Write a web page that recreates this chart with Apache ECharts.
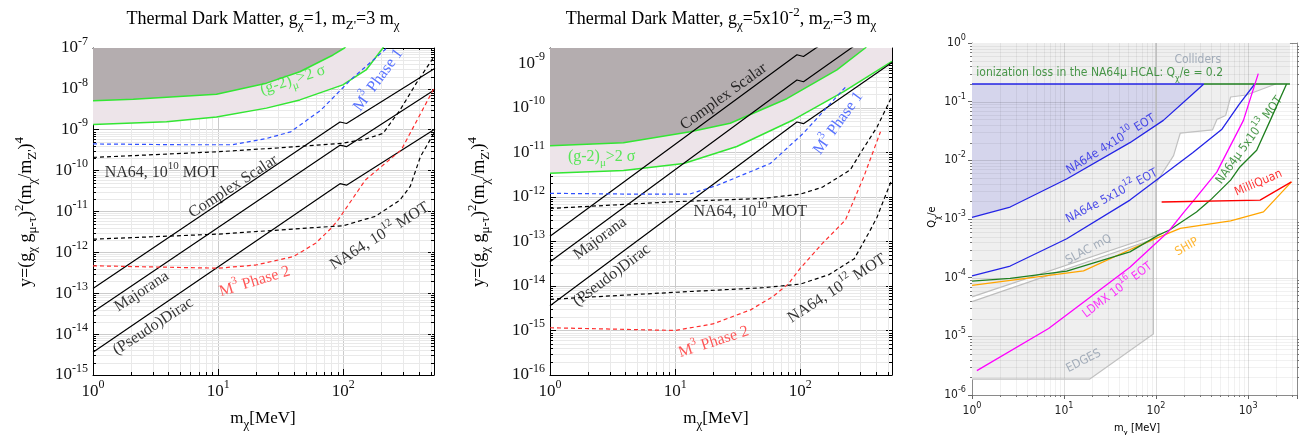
<!DOCTYPE html>
<html>
<head>
<meta charset="utf-8">
<title>Thermal dark matter and millicharge limits</title>
<script src="https://cdn.jsdelivr.net/npm/echarts@6/dist/echarts.min.js"></script>
<style>
  html, body { margin: 0; padding: 0; background: #fff; }
  #main { width: 1302px; height: 435px; }
</style>
</head>
<body>
<div id="main"></div>
<script>
// thermal targets (same in both left panels)
const thermalComplex = [[1, 1.3e-13], [94, 1.55e-9], [106, 1.42e-9], [540, 3.2e-8]]
const thermalMajorana = [[1, 3.5e-14], [94, 4.2e-10], [106, 3.85e-10], [540, 9.7e-9]]
const thermalDirac = [[1, 3.6e-15], [94, 4.8e-11], [106, 4.4e-11], [540, 1.04e-9]]

// panel 1: g_chi = 1
const p1XRange = [1, 530]
const p1YRange = [1e-15, 1e-7]
const p1G2Upper = [[1, 5.1e-9], [2.1, 5.6e-9], [9.7, 7.4e-9], [24.3, 1.38e-8], [44.9, 2.63e-8], [82.8, 6.75e-8], [102, 1e-7], [110, 1.3e-7]]
const p1G2Lower = [[1, 1.34e-9], [3.87, 1.58e-9], [9.7, 2.04e-9], [24.3, 3.38e-9], [44.9, 5.37e-9], [99, 1.25e-8], [152, 2.9e-8], [207, 1e-7], [215, 1.3e-7]]
const p1M3Phase1 = [[1, 4.5e-10], [5, 4.3e-10], [13, 4.3e-10], [24.3, 6.1e-10], [38, 8.9e-10], [66, 3e-9], [114, 1.65e-8], [217, 9.3e-8], [225, 1.2e-7]]
const p1M3Phase2 = [[1, 4.7e-13], [10, 4.1e-13], [20, 4.9e-13], [40, 7.9e-13], [60, 1.67e-12], [80, 3.9e-12], [91, 6.3e-12], [150, 5.9e-11], [290, 3.2e-10], [530, 1.03e-8]]
const p1NA64e10 = [[1, 2.1e-10], [10, 2.9e-10], [30, 3.6e-10], [100, 4.7e-10], [150, 5.9e-10], [207, 8.1e-10], [283, 3e-9], [383, 1.38e-8], [530, 6.1e-8]]
const p1NA64e12 = [[1, 2.1e-12], [10, 2.8e-12], [30, 3.5e-12], [100, 4.5e-12], [180, 7.6e-12], [283, 1.9e-11], [342, 4.1e-11], [413, 2.2e-10], [530, 8.3e-10]]

// panel 2: g_chi = 5e-2
const p2XRange = [1, 540]
const p2YRange = [1e-16, 2.2e-9]
const p2G2Upper = [[1, 1.4e-11], [3.86, 1.65e-11], [13.2, 2.9e-11], [27.5, 4.5e-11], [78, 1.6e-10], [196, 7.1e-10], [330, 2.2e-9], [345, 2.6e-9]]
const p2G2Lower = [[1, 3.4e-12], [3.86, 3.9e-12], [11.7, 5.6e-12], [31.1, 1.35e-11], [88.4, 5.4e-11], [222, 2.3e-10], [540, 1.1e-9]]
const p2M3Phase1 = [[1, 1.2e-12], [5, 1.15e-12], [13, 1.15e-12], [21.5, 1.8e-12], [57.5, 5.6e-12], [106, 2.7e-11], [229, 2.9e-10]]
const p2M3Phase2 = [[1, 1.15e-15], [10, 1e-15], [20, 1.4e-15], [40, 2.9e-15], [60, 5.7e-15], [80, 1.1e-14], [100, 2.5e-14], [150, 9e-14], [229, 3e-13], [321, 2.8e-12], [437, 2.9e-11]]
const p2NA64e10 = [[1, 5.5e-13], [10, 7.8e-13], [50, 9.2e-13], [100, 1.15e-12], [150, 1.65e-12], [250, 4e-12], [300, 9.3e-12], [410, 3.7e-11], [540, 1.8e-10]]
const p2NA64e12 = [[1, 5e-15], [10, 7.2e-15], [50, 9.1e-15], [100, 1.1e-14], [170, 1.8e-14], [270, 4.1e-14], [350, 1.5e-13], [410, 3.5e-13], [460, 8e-13], [540, 2.5e-12]]

// panel 3: millicharged particles
const p3XRange = [1, 3400]
const p3YRange = [1e-6, 1]
const p3Excluded = [[1, 1.86e-6], [18.9, 1.86e-6], [93.5, 1.1e-5], [93.5, 5e-4], [100, 5.5e-4], [100, 4.1e-3], [155, 0.012], [183, 0.029], [410, 0.033], [460, 0.05], [570, 0.058], [646, 0.12], [960, 0.13], [2000, 0.2], [2850, 0.2], [2850, 1], [1, 1]]
const p3ColliderEdge = [[100, 4.1e-3], [155, 0.012], [183, 0.029], [410, 0.033], [460, 0.05], [570, 0.058], [646, 0.12], [960, 0.13], [2000, 0.2]]
const p3EdgesEdge = [[1, 1.86e-6], [18.9, 1.86e-6], [93.5, 1.1e-5], [93.5, 5e-4]]
const p3Vertical = [[100, 5.5e-4], [100, 1]]
const p3SlacUpper = [[1, 4.7e-5], [111, 5.6e-4]]
const p3SlacLower = [[1, 3.9e-5], [100, 4.7e-4]]
const p3Ionization = 0.2
const p3NA64e4e10 = [[1, 1.07e-3], [2.6, 1.6e-3], [10.7, 4.8e-3], [52, 0.02], [120, 0.048], [252, 0.137], [330, 0.2]]
const p3NA64e5e12 = [[1, 1.07e-4], [2.6, 1.58e-4], [10.7, 4.6e-4], [52, 2.1e-3], [250, 0.0135], [520, 0.034], [800, 0.09], [1180, 0.2]]
const p3NA64mu = [[1, 8.7e-5], [2.6, 9.7e-5], [10.7, 1.29e-4], [52, 2.75e-4], [106, 5.3e-4], [140, 6.5e-4], [275, 1.32e-3], [389, 2.1e-3], [646, 4.6e-3], [815, 7.7e-3], [1240, 0.0149], [1740, 0.048], [2620, 0.2]]
const p3LDMX = [[1.13, 2.6e-6], [6.8, 1.36e-5], [52, 1.5e-4], [135, 6e-4], [200, 1.3e-3], [265, 2.2e-3], [457, 6.3e-3], [890, 0.048], [1290, 0.3]]
const p3MilliQuan = [[115, 1.95e-3], [1350, 2.1e-3], [2960, 4.3e-3]]
const p3SHIP = [[1, 7.4e-5], [16.3, 1.31e-4], [57, 3.2e-4], [111, 5e-4], [183, 6.9e-4], [646, 9.3e-4], [1470, 1.32e-3], [2960, 4.3e-3]]

const SERIF = 'Liberation Serif'
const SANS = '"DejaVu Sans Condensed", "DejaVu Sans"'

const GREEN = '#33e633'
const BLUE = '#2f50ff'
const RED = '#ff2e2e'
const DARK = '#b4adaf'
const PINK = '#ede4e9'

const B3 = '#2424e6'
const G3 = '#1f7f1f'
const M3 = '#ff00ff'
const O3 = '#ffa500'
const R3 = '#ff0000'
const GT3 = '#8e9bab'

// annotations: text, x, y, rotation, colour
const p1Notes = [
  ['(g-2)_{μ}>2 σ', 39.5, 1.65e-8, 18, GREEN],
  ['M^{3} Phase 1', 190, 1.65e-8, 54, BLUE],
  ['NA64, 10^{10} MOT', 3.53, 8.7e-11, 0, '#000'],
  ['Complex Scalar', 13.2, 4.1e-11, 33, '#000'],
  ['Majorana', 2.45, 1.1e-13, 33, '#000'],
  ['(Pseudo)Dirac', 3.03, 1.55e-14, 33, '#000'],
  ['M^{3} Phase 2', 19.6, 1.94e-13, 17, RED],
  ['NA64, 10^{12} MOT', 195, 2.5e-12, 32, '#000'],
]
const p2Notes = [
  ['Complex Scalar', 24.4, 1.78e-10, 36, '#000'],
  ['(g-2)_{μ}>2 σ', 2.59, 7.9e-12, 0, GREEN],
  ['M^{3} Phase 1', 201, 4.5e-11, 54, BLUE],
  ['NA64, 10^{10} MOT', 39.8, 4.6e-13, 0, '#000'],
  ['Majorana', 2.51, 1.17e-13, 36, '#000'],
  ['(Pseudo)Dirac', 3.12, 1.74e-14, 37, '#000'],
  ['NA64, 10^{12} MOT', 196, 8.7e-15, 33, '#000'],
  ['M^{3} Phase 2', 20.3, 5.5e-16, 18, RED],
]
const p3Notes = [
  ['Colliders', 284, 0.507, 0, GT3],
  ['ionization loss in the NA64μ HCAL: Q_{χ}/e = 0.2', 24.4, 0.305, 0, G3],
  ['NA64e 4x10^{10} EOT', 32.3, 0.0188, 32, B3],
  ['NA64e 5x10^{12} EOT', 33.1, 2.45e-3, 28, B3],
  ['SLAC mQ', 18.5, 3.0e-4, 28, GT3],
  ['LDMX 10^{16} EOT', 38.1, 6.1e-5, 37, M3],
  ['EDGES', 16.3, 3.8e-6, 27, GT3],
  ['NA64μ 5x10^{13} MOT', 1033, 0.022, 54, G3],
  ['MilliQuan', 1294, 4.1e-3, 23, R3],
  ['SHIP', 216, 3.35e-4, 30, O3],
]

function minorTicks(lo, hi) {
  const out = []
  for (let e = Math.floor(Math.log10(lo)); e <= Math.ceil(Math.log10(hi)); e++) {
    for (let k = 2; k <= 9; k++) {
      const v = k * Math.pow(10, e)
      if (v > lo * 1.0001 && v < hi * 0.9999) out.push(v)
    }
  }
  return out
}
function majorTicks(lo, hi) {
  const out = []
  for (let e = Math.ceil(Math.log10(lo) - 1e-9); e <= Math.floor(Math.log10(hi) + 1e-9); e++) out.push(Math.pow(10, e))
  return out
}

// "g_{x}" -> subscript, "10^{3}" -> superscript, as echarts rich text
function tx(s) {
  return s.split(/([_^]\{[^}]*\})/).filter(p => p).map((p) => {
    if (p.startsWith('_{')) return '{sub|' + p.slice(2, -1) + '}'
    if (p.startsWith('^{')) return '{sup|' + p.slice(2, -1) + '}'
    return '{n|' + p + '}'
  }).join('')
}
function richSet(font, size, color, small) {
  const s = small || Math.round(size * 0.72)
  return {
    n: { fontFamily: font, fontSize: size, color, lineHeight: size + 8, verticalAlign: 'middle' },
    sup: { fontFamily: font, fontSize: s, color, lineHeight: s + 1, verticalAlign: 'top' },
    sub: { fontFamily: font, fontSize: s, color, lineHeight: s + 1, verticalAlign: 'bottom' },
  }
}

const grids = [
  { left: 93, top: 48, width: 341, height: 327 },
  { left: 550, top: 48, width: 342, height: 327 },
  { left: 972, top: 43, width: 325, height: 352 },
]
const ranges = [[p1XRange, p1YRange], [p2XRange, p2YRange], [p3XRange, p3YRange]]

function decadeLabel(v) {
  const e = Math.log10(v)
  if (Math.abs(e - Math.round(e)) > 1e-6) return ''
  return '{n|10}{sup|' + Math.round(e) + '}'
}

const xAxes = []
const yAxes = []
ranges.forEach(([xr, yr], g) => {
  const sans = g === 2
  const frame = sans ? '#8a8a8a' : '#000'
  const rich = sans ? richSet(SANS, 12, '#222', 9) : richSet(SERIF, 17, '#111', 12)
  const tick = sans ? { show: true, inside: false, length: 4, lineStyle: { color: '#666' } } : { show: true, inside: true, length: 6, lineStyle: { color: '#000' } }
  const split = sans ? { show: false } : { show: true, lineStyle: { color: '#cbcbcb', width: 1 } }
  const base = { type: 'log', logBase: 10, gridIndex: g, axisLine: { show: true, lineStyle: { color: frame, width: 1 } } }
  xAxes.push(Object.assign({}, base, { position: 'bottom', min: xr[0], max: xr[1], axisTick: tick, splitLine: split,
    axisLabel: { formatter: decadeLabel, rich, margin: sans ? 6 : 4 } }))
  xAxes.push(Object.assign({}, base, { position: 'top', min: xr[0], max: xr[1], axisTick: sans ? { show: false } : tick, splitLine: { show: false }, axisLabel: { show: false } }))
  yAxes.push(Object.assign({}, base, { position: 'left', min: yr[0], max: yr[1], axisTick: tick, splitLine: split,
    axisLabel: { formatter: decadeLabel, rich, margin: sans ? 6 : 5 } }))
  yAxes.push(Object.assign({}, base, { position: 'right', min: yr[0], max: yr[1], axisTick: sans ? { show: false } : tick, splitLine: { show: false }, axisLabel: { show: false } }))
})

function line(g, data, color, dashed, width, z) {
  return {
    type: 'line', xAxisIndex: 2 * g, yAxisIndex: 2 * g, data, symbol: 'none', showSymbol: false, silent: true,
    z: z || 5, clip: true,
    lineStyle: { color, width: width || 1.2, type: dashed ? [4, 3] : 'solid' },
  }
}
function polygon(g, pts, fill, stroke, z) {
  return {
    type: 'custom', xAxisIndex: 2 * g, yAxisIndex: 2 * g, z, silent: true, clip: true,
    data: pts,
    renderItem(params, api) {
      if (params.dataIndex !== 0) return null
      return {
        type: 'polygon',
        shape: { points: pts.map(p => api.coord(p)) },
        style: { fill, stroke: stroke || null, lineWidth: 1 },
      }
    },
  }
}
// area between a curve and the top of the plot
function toTop(pts, top) {
  return pts.concat([[pts[pts.length - 1][0], top * 100], [pts[0][0], top * 100]])
}
function gridLines(g, opt) {
  const [xr, yr] = ranges[g]
  const ref = [xr[0], yr[0]]
  return {
    type: 'custom', xAxisIndex: 2 * g, yAxisIndex: 2 * g, z: opt.z, silent: true, clip: false,
    data: [ref],
    renderItem(params, api) {
      const cs = params.coordSys
      const L = cs.x, R = cs.x + cs.width, T = cs.y, B = cs.y + cs.height
      const kids = []
      const seg = (x1, y1, x2, y2, c) => kids.push({ type: 'line', shape: { x1, y1, x2, y2 }, style: { stroke: c, lineWidth: 1 } })
      const px = v => Math.round(api.coord([v, ref[1]])[0]) + 0.5
      const py = v => Math.round(api.coord([ref[0], v])[1]) + 0.5
      const t = opt.tick
      ;(opt.xMajor || []).forEach((v) => { const p = px(v); if (p > L + 1 && p < R - 1) seg(p, T, p, B, opt.major) })
      ;(opt.yMajor || []).forEach((v) => { const p = py(v); if (p > T + 1 && p < B - 1) seg(L, p, R, p, opt.major) })
      opt.xMinor.forEach((v) => {
        const p = px(v)
        seg(p, T, p, B, opt.minor)
        if (opt.inside) { seg(p, B, p, B - t, opt.tickColor); seg(p, T, p, T + t, opt.tickColor) }
        else seg(p, B, p, B + t, opt.tickColor)
      })
      opt.yMinor.forEach((v) => {
        const p = py(v)
        seg(L, p, R, p, opt.minor)
        if (opt.inside) { seg(L, p, L + t, p, opt.tickColor); seg(R, p, R - t, p, opt.tickColor) }
        else { seg(L, p, L - t, p, opt.tickColor); seg(R, p, R + t, p, opt.tickColor) }
      })
      return { type: 'group', children: kids }
    },
  }
}
function notes(g, items, font, size, small) {
  return {
    type: 'scatter', xAxisIndex: 2 * g, yAxisIndex: 2 * g, z: 20, silent: true, symbolSize: 1,
    itemStyle: { color: 'rgba(0,0,0,0)' },
    data: items.map(([t, x, y, rot, color]) => ({
      value: [x, y],
      label: { show: true, position: 'inside', formatter: tx(t), rotate: rot, rich: richSet(font, size, color, small) },
    })),
  }
}

const series = [
  // panel 1
  gridLines(0, { xMinor: minorTicks(...p1XRange), yMinor: minorTicks(...p1YRange), minor: '#e9e9e9', tickColor: '#000', tick: 3, inside: true, z: 1 }),
  polygon(0, toTop(p1G2Lower, p1YRange[1]), PINK, null, 2),
  polygon(0, toTop(p1G2Upper, p1YRange[1]), DARK, null, 3),
  line(0, p1G2Upper, GREEN, false, 1.5),
  line(0, p1G2Lower, GREEN, false, 1.5),
  line(0, thermalComplex, '#000'),
  line(0, thermalMajorana, '#000'),
  line(0, thermalDirac, '#000'),
  line(0, p1M3Phase1, BLUE, true),
  line(0, p1M3Phase2, RED, true),
  line(0, p1NA64e10, '#000', true),
  line(0, p1NA64e12, '#000', true),
  notes(0, p1Notes, SERIF, 16, 11),
  // panel 2
  gridLines(1, { xMinor: minorTicks(...p2XRange), yMinor: minorTicks(...p2YRange), minor: '#e9e9e9', tickColor: '#000', tick: 3, inside: true, z: 1 }),
  polygon(1, toTop(p2G2Lower, p2YRange[1]), PINK, null, 2),
  polygon(1, toTop(p2G2Upper, p2YRange[1]), DARK, null, 3),
  line(1, p2G2Upper, GREEN, false, 1.5),
  line(1, p2G2Lower, GREEN, false, 1.5),
  line(1, thermalComplex, '#000'),
  line(1, thermalMajorana, '#000'),
  line(1, thermalDirac, '#000'),
  line(1, p2M3Phase1, BLUE, true),
  line(1, p2M3Phase2, RED, true),
  line(1, p2NA64e10, '#000', true),
  line(1, p2NA64e12, '#000', true),
  notes(1, p2Notes, SERIF, 16, 11),
  // panel 3
  polygon(2, p3Excluded, '#efefef', null, 1),
  polygon(2, p3NA64e4e10.concat([[p3NA64e4e10[p3NA64e4e10.length - 1][0], p3Ionization], [1, p3Ionization]]), 'rgba(90,90,225,0.17)', null, 2),
  polygon(2, p3SlacUpper.concat(p3SlacLower.slice().reverse()), '#ffffff', null, 2),
  gridLines(2, {
    xMajor: majorTicks(...p3XRange), yMajor: majorTicks(...p3YRange),
    xMinor: minorTicks(...p3XRange), yMinor: minorTicks(...p3YRange),
    major: 'rgba(0,0,0,0.12)', minor: 'rgba(0,0,0,0.055)', tickColor: '#777', tick: 2, inside: false, z: 3,
  }),
  line(2, p3ColliderEdge, '#c2c2c2', false, 1.2, 4),
  line(2, p3EdgesEdge, '#c2c2c2', false, 1.2, 4),
  line(2, p3Vertical, '#bdbdbd', false, 1.5, 4),
  line(2, p3SlacUpper, '#bdbdbd', false, 1.2, 4),
  line(2, p3SlacLower, '#bdbdbd', false, 1.2, 4),
  line(2, [[1, p3Ionization], [330, p3Ionization]], B3, false, 1.3),
  line(2, [[330, p3Ionization], [2850, p3Ionization]], G3, false, 1.3),
  line(2, p3NA64e4e10, B3, false, 1.3),
  line(2, p3NA64e5e12, B3, false, 1.3),
  line(2, p3SHIP, O3, false, 1.3),
  line(2, p3NA64mu, G3, false, 1.3),
  line(2, p3LDMX, M3, false, 1.3),
  line(2, p3MilliQuan, R3, false, 1.3),
  notes(2, p3Notes, SANS, 12, 9),
]

const serifText = (x, y, s, rot, size) => ({
  type: 'text', x, y, rotation: rot || 0, silent: true,
  style: { text: tx(s), rich: richSet(SERIF, size || 18, '#111', 13), align: 'center', verticalAlign: 'middle' },
})
const sansText = (x, y, s, rot) => ({
  type: 'text', x, y, rotation: rot || 0, silent: true,
  style: { text: tx(s), rich: richSet(SANS, 11, '#222', 8), align: 'center', verticalAlign: 'middle' },
})

const chart = echarts.init(document.getElementById('main'))
chart.setOption({
  animation: false,
  grid: grids,
  xAxis: xAxes,
  yAxis: yAxes,
  series,
  graphic: [
    serifText(263, 19, 'Thermal Dark Matter, g_{χ}=1, m_{Z\'}=3 m_{χ}'),
    serifText(721, 19, 'Thermal Dark Matter, g_{χ}=5x10^{-2}, m_{Z\'}=3 m_{χ}'),
    serifText(26, 212, 'y=(g_{χ} g_{μ-τ})^{2}(m_{χ}/m_{Z\'})^{4}', Math.PI / 2),
    serifText(479, 212, 'y=(g_{χ} g_{μ-τ})^{2}(m_{χ}/m_{Z\'})^{4}', Math.PI / 2),
    serifText(263, 419, 'm_{χ}[MeV]', 0, 17),
    serifText(716, 419, 'm_{χ}[MeV]', 0, 17),
    sansText(932, 217, 'Q_{χ}/e', Math.PI / 2),
    sansText(1137, 428, 'm_{χ} [MeV]'),
  ],
})
</script>
</body>
</html>
